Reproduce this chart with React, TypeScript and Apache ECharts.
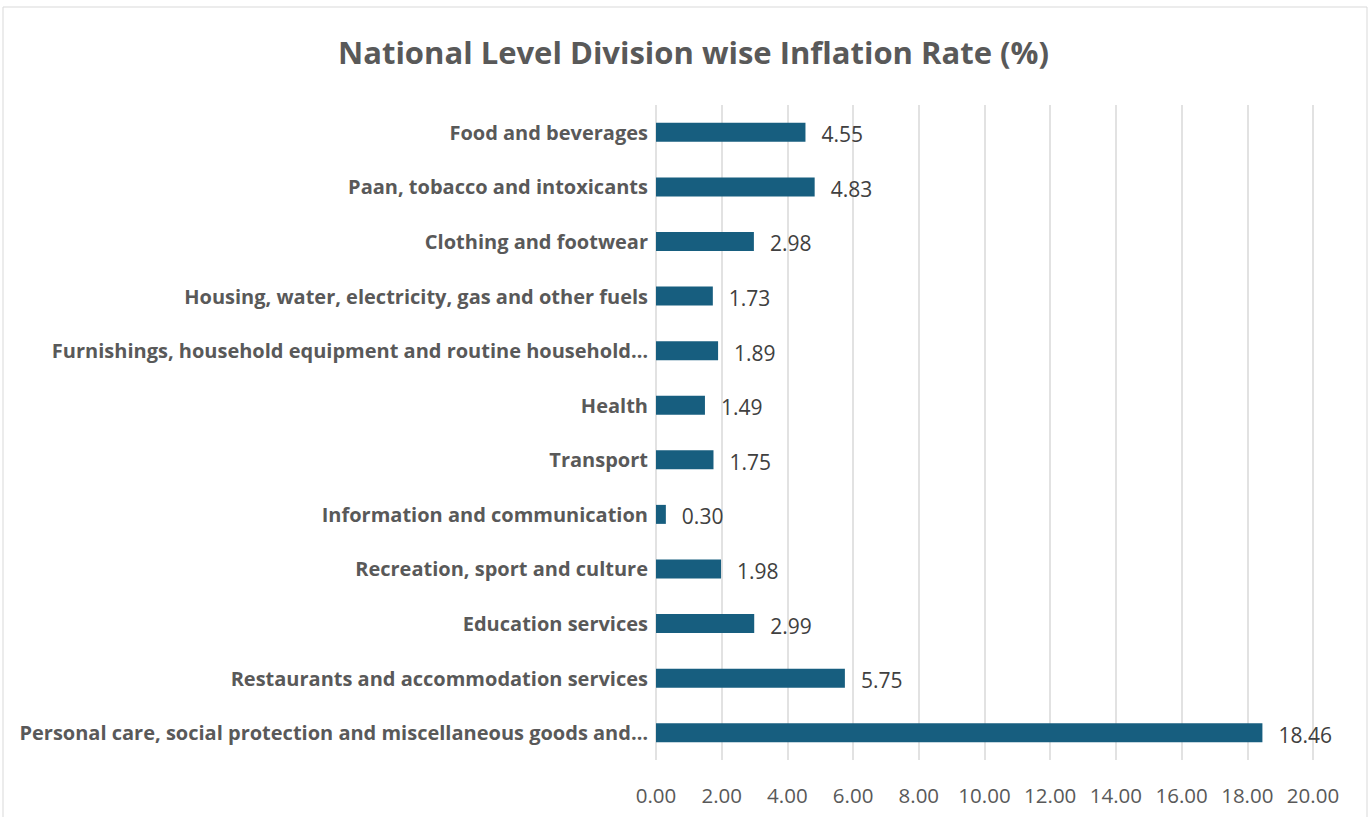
import React, { useEffect, useRef } from "react";
import * as echarts from "echarts";

const categories = [
  "Food and beverages",
  "Paan, tobacco and intoxicants",
  "Clothing and footwear",
  "Housing, water, electricity, gas and other fuels",
  "Furnishings, household equipment and routine household…",
  "Health",
  "Transport",
  "Information and communication",
  "Recreation, sport and culture",
  "Education services",
  "Restaurants and accommodation services",
  "Personal care, social protection and miscellaneous goods and…",
];
const values = [4.55, 4.83, 2.98, 1.73, 1.89, 1.49, 1.75, 0.3, 1.98, 2.99, 5.75, 18.46];
const titleText = "National Level Division wise Inflation Rate (%)";

export default function App() {
  const ref = useRef<HTMLDivElement>(null);
  useEffect(() => {
    document.body.style.margin = "0";
    const chart = echarts.init(ref.current!, null, { renderer: "svg" });
    chart.setOption({
      animation: false,
      backgroundColor: "#ffffff",
      title: {
        text: titleText,
        left: 333,
        top: 31,
        textStyle: { fontFamily: "Open Sans", fontWeight: "bold", fontSize: 31, color: "#595959" },
      },
      graphic: [
        {
          type: "rect",
          shape: { x: 3, y: 7, width: 1364, height: 820 },
          style: { fill: "none", stroke: "#d9d9d9", lineWidth: 1 },
          silent: true,
        },
      ],
      grid: { left: 656, right: 57, top: 105, bottom: 57, containLabel: false },
      xAxis: {
        type: "value",
        min: 0,
        max: 20,
        interval: 2,
        axisLine: { show: false },
        axisTick: { show: false },
        splitLine: { show: true, lineStyle: { color: "#d9d9d9", width: 1.5 } },
        axisLabel: {
          formatter: (v: number) => v.toFixed(2),
          fontFamily: "Open Sans",
          fontSize: 20.5,
          color: "#595959",
          margin: 24,
        },
      },
      yAxis: {
        type: "category",
        data: categories,
        inverse: true,
        axisLine: { show: false },
        axisTick: { show: false },
        axisLabel: {
          fontFamily: "Open Sans",
          fontWeight: "bold",
          fontSize: 20,
          color: "#595959",
          margin: 8,
        },
      },
      series: [
        {
          type: "bar",
          data: values,
          barWidth: 19,
          itemStyle: { color: "#175e7f" },
          label: {
            show: true,
            position: "right",
            distance: 16,
            formatter: (p: any) => p.value.toFixed(2),
            fontFamily: "Open Sans",
            fontSize: 21,
            color: "#404040",
            offset: [0, 2],
          },
        },
      ],
    });
    return () => chart.dispose();
  }, []);
  return <div ref={ref} style={{ width: 1370, height: 817 }} />;
}
